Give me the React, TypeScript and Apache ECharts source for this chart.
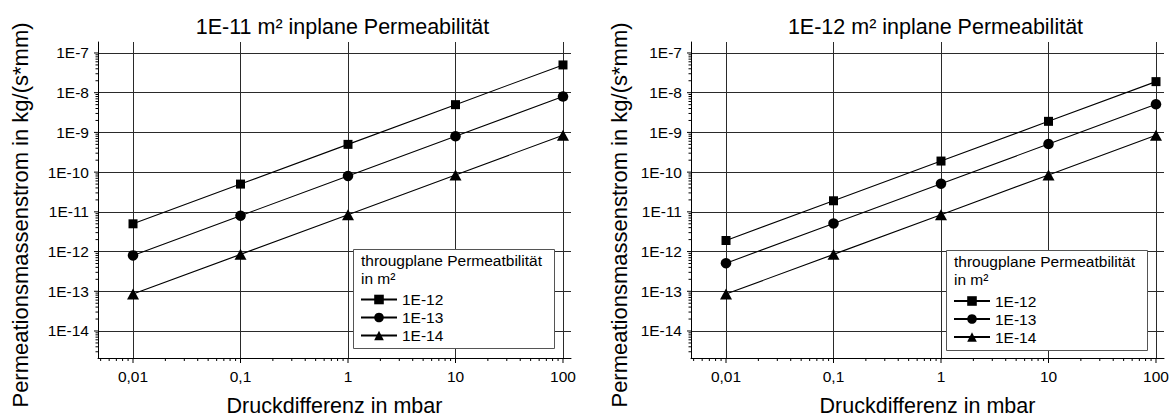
import React, { useEffect, useRef } from "react";
import * as echarts from "echarts";

// Pressure difference in mbar (x positions of the measured points)
const pressures = [0.01, 0.1, 1, 10, 100];

// Panel 1: 1E-11 m² inplane permeability
const leftSquares = [5e-12, 5e-11, 5e-10, 5e-9, 5e-8];
const leftCircles = [8e-13, 8e-12, 8e-11, 8e-10, 8e-9];
const leftTriangles = [8.5e-14, 8.5e-13, 8.5e-12, 8.5e-11, 8.5e-10];

// Panel 2: 1E-12 m² inplane permeability
const rightSquares = [1.9e-12, 1.9e-11, 1.9e-10, 1.9e-9, 1.9e-8];
const rightCircles = [5.1e-13, 5.1e-12, 5.1e-11, 5.1e-10, 5.1e-9];
const rightTriangles = [8.5e-14, 8.5e-13, 8.5e-12, 8.5e-11, 8.5e-10];

const seriesNames = ["1E-12", "1E-13", "1E-14"];
const panelTitles = ["1E-11 m² inplane Permeabilität", "1E-12 m² inplane Permeabilität"];
const legendTitleLines = ["througplane Permeatbilität", "in m²"];
const xAxisTitle = "Druckdifferenz in mbar";
const yAxisTitle = "Permeationsmassenstrom in kg/(s*mm)";

const xTickLabels = ["0,01", "0,1", "1", "10", "100"]; // decades 1e-2 .. 1e2
const yTickLabels = ["1E-14", "1E-13", "1E-12", "1E-11", "1E-10", "1E-9", "1E-8", "1E-7"]; // 1e-14 .. 1e-7

const X_MIN = 0.004724;
const X_MAX = 118.7;
const Y_MIN = 2.09e-15;
const Y_MAX = 1.89e-7;

const FONT = '"Liberation Sans", Arial, Helvetica, sans-serif';

const GRID_LEFT = [98, 691];
const GRID_TOP = 42;
const GRID_W = 473;
const GRID_H = 316;

const decadeIndex = (v: number, first: number) => {
  const e = Math.log10(v);
  const r = Math.round(e);
  if (Math.abs(e - r) > 1e-6) return -1;
  return r - first;
};

// Log-axis tick marks (major at decades, minor at 2..9), drawn outside the plot
function buildTicks(): number[][] {
  const out: number[][] = [];
  for (let e = -3; e <= 2; e++) {
    for (let k = 1; k <= 9; k++) {
      const v = k * Math.pow(10, e);
      if (v >= X_MIN && v <= X_MAX) out.push([v, Y_MIN, 0, k === 1 ? 5 : 3]);
    }
  }
  for (let e = -15; e <= -7; e++) {
    for (let k = 1; k <= 9; k++) {
      const v = k * Math.pow(10, e);
      if (v >= Y_MIN && v <= Y_MAX) out.push([X_MIN, v, 1, k === 1 ? 4 : 2.5]);
    }
  }
  return out;
}

const makeXAxis = (gridIndex: number) => ({
  type: "log",
  logBase: 10,
  gridIndex,
  min: X_MIN,
  max: X_MAX,
  splitNumber: 5,
  axisLine: { show: true, onZero: false, lineStyle: { color: "#000", width: 1 } },
  axisTick: { show: false },
  minorTick: { show: false },
  axisLabel: {
    show: true,
    showMinLabel: false,
    showMaxLabel: false,
    margin: 10,
    color: "#000",
    fontFamily: FONT,
    fontSize: 15.5,
    formatter: (v: number) => {
      const i = decadeIndex(v, -2);
      return i >= 0 && i < xTickLabels.length ? xTickLabels[i] : "";
    },
  },
  splitLine: {
    show: true,
    showMinLine: false,
    showMaxLine: false,
    lineStyle: { color: "#2a2a2a", width: 1 },
  },
});

const makeYAxis = (gridIndex: number) => ({
  type: "log",
  logBase: 10,
  gridIndex,
  min: Y_MIN,
  max: Y_MAX,
  splitNumber: 8,
  axisLine: { show: true, onZero: false, lineStyle: { color: "#000", width: 1 } },
  axisTick: { show: false },
  minorTick: { show: false },
  axisLabel: {
    show: true,
    showMinLabel: false,
    showMaxLabel: false,
    margin: 9,
    color: "#000",
    fontFamily: FONT,
    fontSize: 15.5,
    formatter: (v: number) => {
      const i = decadeIndex(v, -14);
      return i >= 0 && i < yTickLabels.length ? yTickLabels[i] : "";
    },
  },
  splitLine: {
    show: true,
    showMinLine: false,
    showMaxLine: false,
    lineStyle: { color: "#2a2a2a", width: 1 },
  },
});

const symbols: { symbol: string; size: number | number[] }[] = [
  { symbol: "rect", size: 9 },
  { symbol: "circle", size: 10.5 },
  { symbol: "triangle", size: [12, 11] },
];

const makeLine = (name: string, values: number[], idx: number, k: number) => ({
  type: "line",
  name,
  xAxisIndex: idx,
  yAxisIndex: idx,
  data: pressures.map((p, i) => [p, values[i]]),
  symbol: symbols[k].symbol,
  symbolSize: symbols[k].size,
  showAllSymbol: true,
  lineStyle: { color: "#000", width: 1.1 },
  itemStyle: { color: "#000" },
  z: 3,
});

const tickSeries = (idx: number) => ({
  type: "custom",
  name: "ticks" + idx,
  xAxisIndex: idx,
  yAxisIndex: idx,
  silent: true,
  clip: false,
  data: buildTicks(),
  renderItem: (_params: any, api: any) => {
    const p = api.coord([api.value(0), api.value(1)]);
    const kind = api.value(2);
    const len = api.value(3);
    const shape =
      kind === 0
        ? { x1: p[0], y1: p[1], x2: p[0], y2: p[1] + len }
        : { x1: p[0] - len, y1: p[1], x2: p[0], y2: p[1] };
    return { type: "line", shape, style: { stroke: "#000", lineWidth: 1 } };
  },
  z: 4,
});

const LEGEND_BOX = [
  { x: 353.5, y: 249.5, h: 99, top: 291.5 },
  { x: 946.5, y: 250.5, h: 100, top: 293 },
];

function buildGraphic() {
  const els: any[] = [];
  for (let i = 0; i < 2; i++) {
    const gx = GRID_LEFT[i];
    const box = LEGEND_BOX[i];
    // chart title
    els.push({
      type: "text",
      x: gx + GRID_W / 2 + 8,
      y: 27,
      z: 10,
      style: {
        text: panelTitles[i],
        fill: "#000",
        font: `21.5px ${FONT}`,
        textAlign: "center",
        textVerticalAlign: "middle",
      },
    });
    // x axis title
    els.push({
      type: "text",
      x: gx + GRID_W / 2,
      y: 405.5,
      z: 10,
      style: {
        text: xAxisTitle,
        fill: "#000",
        font: `21.5px ${FONT}`,
        textAlign: "center",
        textVerticalAlign: "middle",
      },
    });
    // y axis title (rotated)
    els.push({
      type: "text",
      x: i === 0 ? 20.5 : 619,
      y: 215,
      rotation: Math.PI / 2,
      z: 10,
      style: {
        text: yAxisTitle,
        fill: "#000",
        font: `22px ${FONT}`,
        textAlign: "center",
        textVerticalAlign: "middle",
      },
    });
    // legend frame and its heading
    els.push({
      type: "rect",
      z: 5,
      shape: { x: box.x, y: box.y, width: 201, height: box.h },
      style: { fill: "#fff", stroke: "#555", lineWidth: 1 },
    });
    legendTitleLines.forEach((line, j) => {
      els.push({
        type: "text",
        x: box.x + 7.5,
        y: box.y + 10.5 + j * 18,
        z: 10,
        style: {
          text: line,
          fill: "#000",
          font: `15.5px ${FONT}`,
          textAlign: "left",
          textVerticalAlign: "middle",
        },
      });
    });
  }
  return els;
}

const makeLegend = (i: number) => ({
  orient: "vertical",
  left: LEGEND_BOX[i].x + 6.5,
  top: LEGEND_BOX[i].top,
  padding: 0,
  itemWidth: 36,
  itemHeight: 12,
  itemGap: 2,
  z: 8,
  data: seriesNames,
  selectedMode: false,
  textStyle: { color: "#000", fontFamily: FONT, fontSize: 15.5 },
});

export default function App() {
  const ref = useRef<HTMLDivElement>(null);

  useEffect(() => {
    if (!ref.current) return;
    const chart = echarts.init(ref.current, null, { renderer: "svg" });
    const option: any = {
      animation: false,
      backgroundColor: "#fff",
      textStyle: { fontFamily: FONT },
      grid: GRID_LEFT.map((left) => ({
        left,
        top: GRID_TOP,
        width: GRID_W,
        height: GRID_H,
        containLabel: false,
        outerBoundsMode: "none",
      })),
      xAxis: [makeXAxis(0), makeXAxis(1)],
      yAxis: [makeYAxis(0), makeYAxis(1)],
      legend: [makeLegend(0), makeLegend(1)],
      graphic: buildGraphic(),
      series: [
        makeLine(seriesNames[0], leftSquares, 0, 0),
        makeLine(seriesNames[1], leftCircles, 0, 1),
        makeLine(seriesNames[2], leftTriangles, 0, 2),
        makeLine(seriesNames[0], rightSquares, 1, 0),
        makeLine(seriesNames[1], rightCircles, 1, 1),
        makeLine(seriesNames[2], rightTriangles, 1, 2),
        tickSeries(0),
        tickSeries(1),
      ],
    };
    chart.setOption(option);
    return () => chart.dispose();
  }, []);

  return (
    <div
      ref={ref}
      style={{ position: "fixed", left: 0, top: 0, width: 1172, height: 417, background: "#fff" }}
    />
  );
}
